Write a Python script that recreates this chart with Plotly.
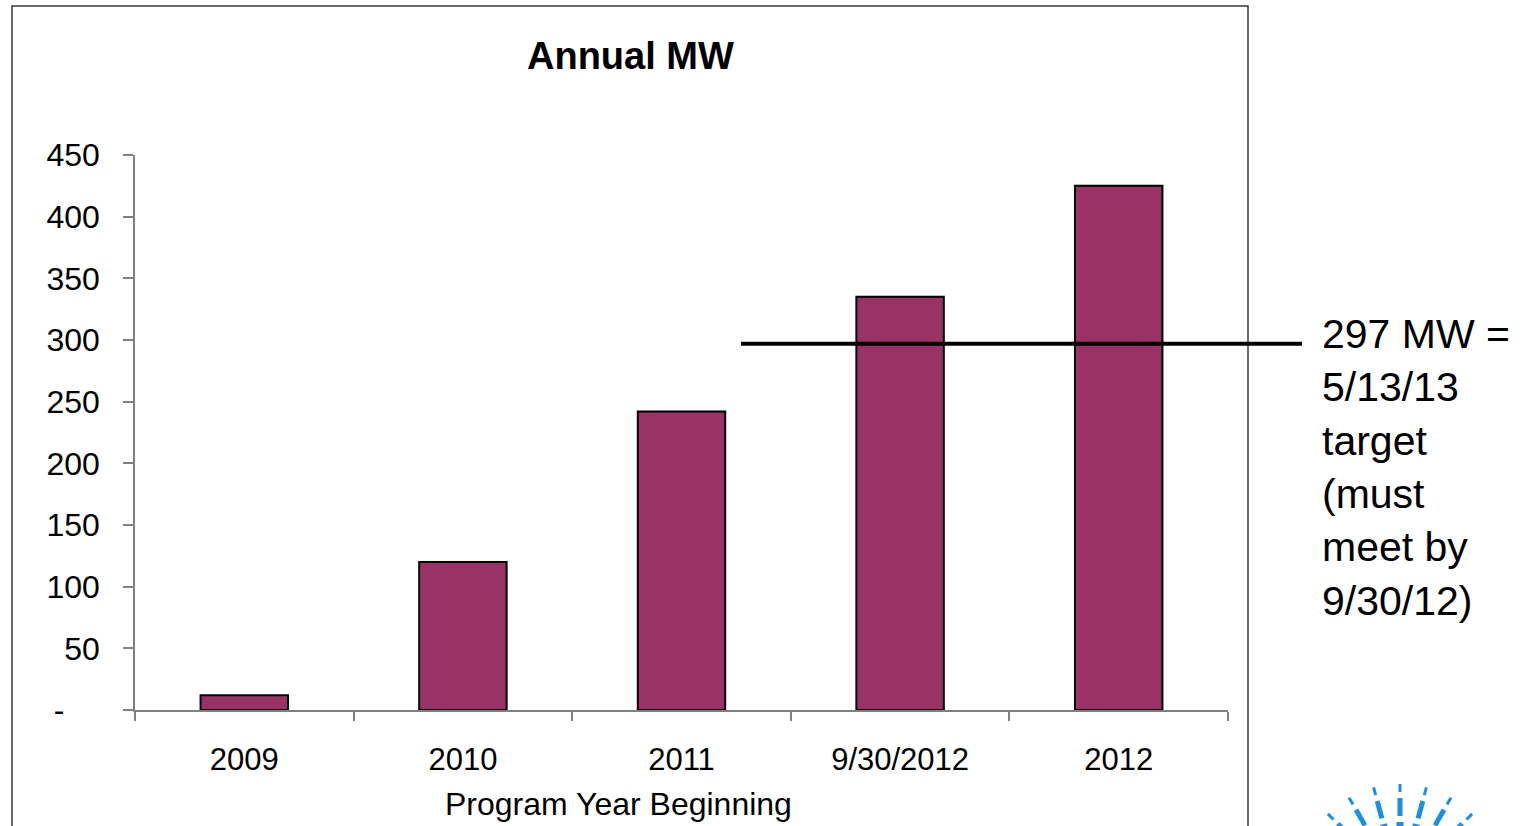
import math
import plotly.graph_objects as go

categories = ["2009", "2010", "2011", "9/30/2012", "2012"]
annual_mw = [12, 120, 242, 335, 425]
target_mw = 297
y_tickvals = [0, 50, 100, 150, 200, 250, 300, 350, 400, 450]
y_ticktext = ["-\u00a0\u00a0\u00a0\u00a0", "50", "100", "150", "200", "250", "300", "350", "400", "450"]

W, H = 1532, 826
L, R, T, B = 135, 1228, 155, 710  # plot area in pixels


def px(x):
    return (x - L) / (R - L)


def py(y):
    return (B - y) / (B - T)


FONT = "Liberation Sans, Arial, sans-serif"

fig = go.Figure()
fig.add_trace(go.Bar(
    x=categories, y=annual_mw, width=0.4,
    marker=dict(color="#993366", line=dict(color="#000000", width=2)),
    showlegend=False,
))

shapes = []
# chart frame
shapes.append(dict(type="rect", xref="paper", yref="paper",
                   x0=px(12), x1=px(1248), y0=py(900), y1=py(6),
                   line=dict(color="#3a3a3a", width=1.5), layer="below"))
# target line
shapes.append(dict(type="line", xref="paper", yref="y",
                   x0=px(741), x1=px(1302), y0=target_mw, y1=target_mw,
                   line=dict(color="#000000", width=4)))
# decorative logo rays (partial, bottom right)
cx, cy = 1400, 886
segs = [(94, 102, 3), (70, 88, 5), (40, 64, 7)]
for k in range(-6, 7):
    ang = math.radians(k * 15)
    for r0, r1, w in segs:
        x0 = cx + r0 * math.sin(ang)
        y0 = cy - r0 * math.cos(ang)
        x1 = cx + r1 * math.sin(ang)
        y1 = cy - r1 * math.cos(ang)
        shapes.append(dict(type="line", xref="paper", yref="paper",
                           x0=px(x0), x1=px(x1), y0=py(y0), y1=py(y1),
                           line=dict(color="#1a8fe3", width=w)))

annotations = [
    dict(text="<b>Annual MW</b>", xref="paper", yref="paper",
         x=px(630), y=py(56), xanchor="center", yanchor="middle",
         showarrow=False, font=dict(family=FONT, size=38, color="#000000")),
    dict(text="Program Year Beginning", xref="paper", yref="paper",
         x=px(618), y=py(804), xanchor="center", yanchor="middle",
         showarrow=False, font=dict(family=FONT, size=32, color="#000000")),
    dict(text=f"{target_mw} MW =<br>5/13/13<br>target<br>(must<br>meet by<br>9/30/12)",
         xref="paper", yref="paper", x=px(1320), y=py(309),
         xanchor="left", yanchor="top", align="left",
         showarrow=False, font=dict(family=FONT, size=41, color="#000000")),
]

fig.update_layout(
    width=W, height=H,
    margin=dict(l=L, r=W - R, t=T, b=H - B),
    paper_bgcolor="white", plot_bgcolor="white",
    bargap=0.6,
    shapes=shapes,
    annotations=annotations,
    xaxis=dict(
        type="category", showgrid=False, zeroline=False,
        showline=True, linecolor="#808080", linewidth=1.5,
        ticks="outside", tickson="boundaries", ticklen=9, tickcolor="#808080", tickwidth=1.5,
        tickfont=dict(family=FONT, size=31, color="#000000"),
        ticklabelstandoff=21,
    ),
    yaxis=dict(
        range=[0, 450], showgrid=False, zeroline=False,
        showline=True, linecolor="#808080", linewidth=1.5,
        ticks="outside", ticklen=10, tickcolor="#808080", tickwidth=1.5,
        tickvals=y_tickvals, ticktext=y_ticktext,
        tickfont=dict(family=FONT, size=32, color="#000000"),
        ticklabelstandoff=17,
    ),
)

fig.write_html("out.html")
